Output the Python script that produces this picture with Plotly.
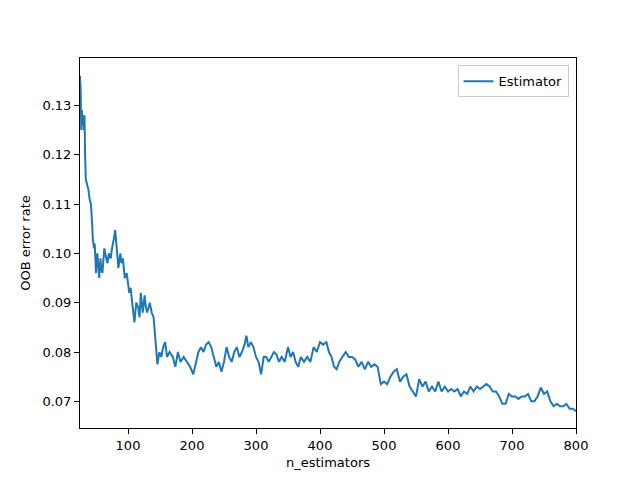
import plotly.graph_objects as go

# OOB error rate (approximate)
n_estimators = [25, 26, 27, 28, 29, 30, 31, 32, 33, 34, 36, 38, 40, 42, 44, 45, 47, 48, 50, 52, 54, 55, 57, 58,
                60, 62, 63, 66, 68, 70, 73, 75, 76, 78, 80, 82, 85, 88, 90, 92, 95, 98, 100, 102, 104, 107,
                110, 113, 116, 118, 120, 123, 126, 128, 130, 134, 137, 140, 143, 146, 149, 152, 155, 158,
                161, 165, 170, 174, 178, 182, 187, 192, 197, 202, 206, 210, 214, 218, 222, 226, 230, 234,
                238, 242, 246, 250, 254, 258, 262, 266, 270, 274, 278, 282, 285, 288, 292, 296, 300, 304,
                308, 312, 316, 320, 324, 328, 332, 336, 340, 345, 350, 354, 358, 362, 366, 370, 375, 380,
                385, 390, 395, 400, 405, 410, 414, 418, 422, 426, 430, 435, 440, 445, 450, 455, 460, 465,
                470, 475, 480, 485, 490, 495, 500, 505, 510, 515, 520, 525, 530, 535, 540, 545, 550, 555,
                560, 565, 570, 575, 580, 585, 590, 595, 600, 605, 610, 615, 620, 625, 630, 635, 640, 645,
                650, 655, 660, 665, 670, 675, 680, 685, 690, 695, 700, 705, 710, 715, 720, 725, 730, 735,
                740, 745, 750, 755, 760, 765, 770, 775, 780, 785, 790, 795, 800]
oob_error = [0.136, 0.133, 0.125, 0.129, 0.126, 0.128, 0.125, 0.128, 0.120, 0.115, 0.114, 0.113, 0.111, 0.110,
             0.106, 0.103, 0.101, 0.102, 0.096, 0.100, 0.097, 0.095, 0.099, 0.097, 0.096, 0.100, 0.101,
             0.099, 0.098, 0.100, 0.099, 0.101, 0.102, 0.103, 0.1047, 0.102, 0.097, 0.100, 0.098, 0.099,
             0.095, 0.096, 0.094, 0.092, 0.093, 0.089, 0.086, 0.090, 0.089, 0.087, 0.092, 0.088, 0.0915,
             0.089, 0.088, 0.090, 0.088, 0.087, 0.082, 0.0775, 0.080, 0.079, 0.081, 0.082, 0.079, 0.080,
             0.079, 0.077, 0.080, 0.078, 0.079, 0.078, 0.077, 0.0755, 0.078, 0.080, 0.081, 0.080, 0.0815,
             0.082, 0.081, 0.079, 0.077, 0.078, 0.076, 0.078, 0.081, 0.079, 0.078, 0.080, 0.081, 0.079,
             0.080, 0.0815, 0.0833, 0.081, 0.082, 0.081, 0.079, 0.078, 0.0755, 0.079, 0.079, 0.078, 0.079,
             0.080, 0.0795, 0.078, 0.079, 0.078, 0.081, 0.079, 0.080, 0.078, 0.077, 0.079, 0.078, 0.079,
             0.078, 0.081, 0.080, 0.082, 0.0815, 0.082, 0.080, 0.079, 0.077, 0.0765, 0.078, 0.079, 0.080,
             0.079, 0.079, 0.0785, 0.077, 0.078, 0.0765, 0.078, 0.077, 0.0775, 0.077, 0.0735, 0.074,
             0.0735, 0.075, 0.076, 0.0765, 0.074, 0.075, 0.0755, 0.073, 0.072, 0.071, 0.0745, 0.073, 0.074,
             0.072, 0.073, 0.072, 0.074, 0.072, 0.073, 0.072, 0.0725, 0.072, 0.0725, 0.071, 0.072, 0.0715,
             0.073, 0.072, 0.073, 0.0725, 0.073, 0.0735, 0.073, 0.072, 0.072, 0.071, 0.0695, 0.0695,
             0.0715, 0.071, 0.071, 0.0705, 0.071, 0.071, 0.0715, 0.070, 0.070, 0.071, 0.0728, 0.0715,
             0.072, 0.070, 0.069, 0.0695, 0.069, 0.069, 0.0695, 0.0685, 0.0685, 0.068]

fig = go.Figure()
fig.add_trace(go.Scatter(x=n_estimators, y=oob_error, mode='lines', name='Estimator',
                         line=dict(color='#1f77b4', width=2)))

axis_style = dict(showline=True, linecolor='black', linewidth=1, mirror=True, ticks='outside',
                  ticklen=5, tickcolor='black', showgrid=False, zeroline=False, automargin=False,
                  tickfont=dict(size=13, color='black'))

# page body adds an 8px offset, so margins are shifted to keep the axes box in place
fig.update_layout(
    width=640, height=480,
    margin=dict(l=72, r=72, t=50, b=60),
    paper_bgcolor='white', plot_bgcolor='white',
    font=dict(family='DejaVu Sans', size=13, color='black'),
    showlegend=True,
    legend=dict(x=0.985, y=0.98, xanchor='right', yanchor='top', bordercolor='#cccccc',
                borderwidth=1, bgcolor='white', font=dict(size=13)),
    xaxis=dict(range=[25, 800], tickvals=[100, 200, 300, 400, 500, 600, 700, 800],
               title=dict(text='n_estimators', standoff=6, font=dict(size=13)), **axis_style),
    yaxis=dict(range=[0.0646, 0.1396], tickvals=[0.07, 0.08, 0.09, 0.10, 0.11, 0.12, 0.13],
               tickformat='.2f', title=dict(text='OOB error rate', standoff=8, font=dict(size=13)),
               **axis_style),
)

fig.write_html("out.html")
